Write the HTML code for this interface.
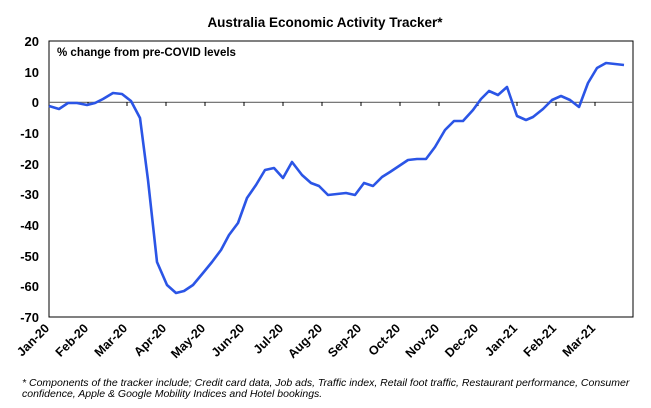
<!DOCTYPE html>
<html><head><style>
body{margin:0;background:#fff;width:651px;height:403px;overflow:hidden;font-family:"Liberation Sans",Arial,sans-serif}
</style></head><body>
<svg width="651" height="403" xmlns="http://www.w3.org/2000/svg" font-family="Liberation Sans, Arial, sans-serif">
<text x="325" y="27" font-size="13.5" font-weight="bold" text-anchor="middle">Australia Economic Activity Tracker*</text>
<rect x="49" y="41" width="584" height="276" fill="none" stroke="#000" stroke-width="1"/>
<line x1="49" y1="102.3" x2="633" y2="102.3" stroke="#666" stroke-width="1.2"/>
<g stroke="#000" stroke-width="1">
<line x1="88" y1="102" x2="88" y2="106"/><line x1="127" y1="102" x2="127" y2="106"/><line x1="166" y1="102" x2="166" y2="106"/><line x1="205" y1="102" x2="205" y2="106"/><line x1="244" y1="102" x2="244" y2="106"/><line x1="283" y1="102" x2="283" y2="106"/><line x1="322" y1="102" x2="322" y2="106"/><line x1="361" y1="102" x2="361" y2="106"/><line x1="400" y1="102" x2="400" y2="106"/><line x1="439" y1="102" x2="439" y2="106"/><line x1="478" y1="102" x2="478" y2="106"/><line x1="517" y1="102" x2="517" y2="106"/><line x1="556" y1="102" x2="556" y2="106"/><line x1="595" y1="102" x2="595" y2="106"/>
</g>
<g font-size="13" font-weight="bold" text-anchor="end">
<text x="39" y="46">20</text><text x="39" y="77">10</text><text x="39" y="107">0</text><text x="39" y="138">-10</text><text x="39" y="169">-20</text><text x="39" y="199">-30</text><text x="39" y="230">-40</text><text x="39" y="261">-50</text><text x="39" y="291">-60</text><text x="39" y="322">-70</text>
</g>
<text x="57" y="56" font-size="11.5" font-weight="bold">% change from pre-COVID levels</text>
<polyline fill="none" stroke="#2b55e6" stroke-width="2.6" stroke-linejoin="round" points="49,106 59,109 68,103 77,103 87,105 95,103 103,99 113,93 122,94 131,101 140,118 148,180 157,262 167,285 176,293 184,291 193,285 203,273 212,262 221,250 229,235 238,223 247,198 256,185 265,170 274,168 283,178 292,162 302,175 311,183 319,186 328,195 337,194 346,193 355,195 364,183 373,186 382,177 390,172 399,166 408,160 417,159 426,159 435,147 445,130 454,121 463,121 473,110 481,99 489,91 498,95 507,87 517,116 526,120 533,117 543,109 552,100 561,96 570,100 579,107 588,83 597,68 606,63 615,64 624,65"/>
<g font-size="12.5" font-weight="bold" text-anchor="end">
<text transform="translate(50,329) rotate(-45)">Jan-20</text>
<text transform="translate(89,329) rotate(-45)">Feb-20</text>
<text transform="translate(128,329) rotate(-45)">Mar-20</text>
<text transform="translate(167,329) rotate(-45)">Apr-20</text>
<text transform="translate(206,329) rotate(-45)">May-20</text>
<text transform="translate(245,329) rotate(-45)">Jun-20</text>
<text transform="translate(284,329) rotate(-45)">Jul-20</text>
<text transform="translate(323,329) rotate(-45)">Aug-20</text>
<text transform="translate(362,329) rotate(-45)">Sep-20</text>
<text transform="translate(401,329) rotate(-45)">Oct-20</text>
<text transform="translate(440,329) rotate(-45)">Nov-20</text>
<text transform="translate(479,329) rotate(-45)">Dec-20</text>
<text transform="translate(518,329) rotate(-45)">Jan-21</text>
<text transform="translate(557,329) rotate(-45)">Feb-21</text>
<text transform="translate(596,329) rotate(-45)">Mar-21</text>
</g>
<g font-size="10.5" font-style="italic">
<text x="22" y="386">* Components of the tracker include; Credit card data, Job ads, Traffic index, Retail foot traffic, Restaurant performance, Consumer</text>
<text x="22" y="397">confidence, Apple &amp; Google Mobility Indices and Hotel bookings.</text>
</g>
</svg>
</body></html>
